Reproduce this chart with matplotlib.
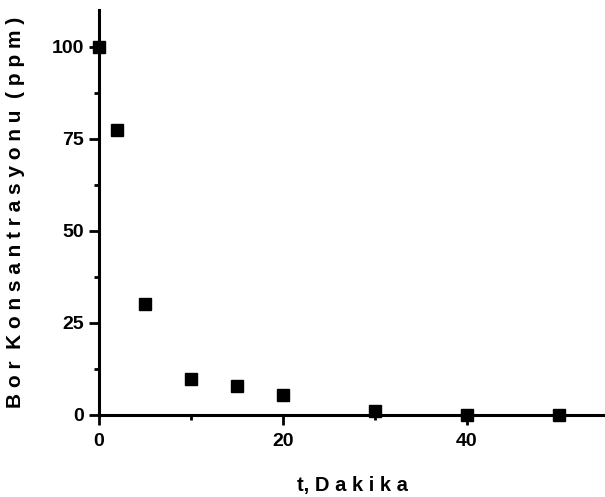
import matplotlib.pyplot as plt
from matplotlib.ticker import MultipleLocator

# Data
t_min = [0, 2, 5, 10, 15, 20, 30, 40, 50]
bor_ppm = [100, 77.5, 30.2, 9.8, 7.8, 5.3, 1.2, 0.1, 0.1]

plt.rcParams['font.family'] = ['Liberation Sans', 'DejaVu Sans']
plt.rcParams['font.weight'] = 'bold'

fig = plt.figure(figsize=(6.05, 4.97), dpi=100)
ax = fig.add_axes([0.1636, 0.165, 0.8364, 0.815])

ax.plot(t_min, bor_ppm, 's', color='black', markersize=8.5, clip_on=False, zorder=3)

ax.set_xlim(0, 55)
ax.set_ylim(0, 110)
ax.xaxis.set_major_locator(MultipleLocator(20))
ax.xaxis.set_minor_locator(MultipleLocator(10))
ax.yaxis.set_major_locator(MultipleLocator(25))
ax.yaxis.set_minor_locator(MultipleLocator(12.5))

for side in ['top', 'right']:
    ax.spines[side].set_visible(False)
for side in ['left', 'bottom']:
    ax.spines[side].set_linewidth(2.2)

ax.tick_params(which='major', length=7, width=2, labelsize=14)
ax.tick_params(which='minor', length=3.5, width=2)
ax.tick_params(axis='x', which='major', pad=6)
ax.tick_params(axis='y', which='major', pad=4)

ax.set_xlabel('t, D a k i k a', fontsize=14.5, fontweight='bold', labelpad=19)
ax.set_ylabel('B o r  K o n s a n t r a s y o n u  ( p p m )', fontsize=15,
              fontweight='bold', labelpad=19)

fig.savefig('out.png', dpi=100)
